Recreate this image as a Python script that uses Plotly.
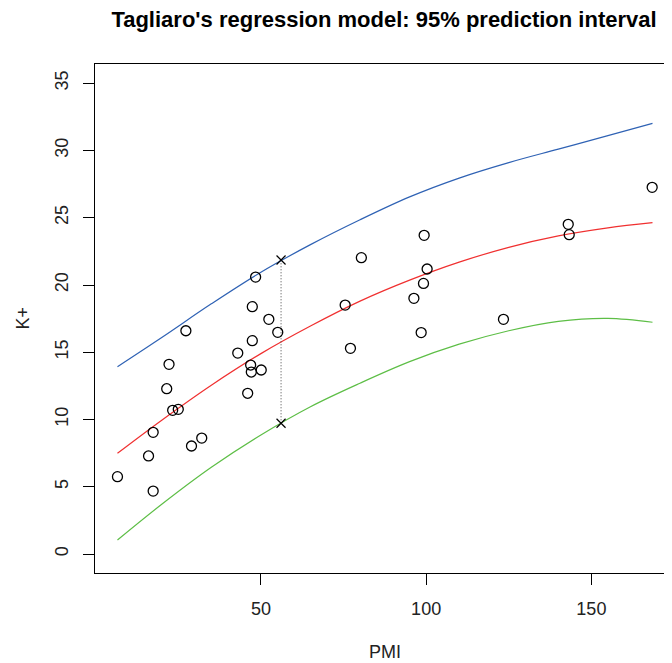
import plotly.graph_objects as go

pmi = [6.6, 17.4, 16.0, 17.4, 23.3, 25.0, 21.5, 22.2, 27.3, 29.0, 32.1, 43.0, 46.0,
       46.9, 47.1, 47.4, 47.4, 48.4, 50.1, 52.4, 55.1, 75.5, 77.1, 80.4, 96.3, 98.5,
       99.2, 99.4, 100.3, 123.4, 143.0, 143.3, 168.4]
k_plus = [5.75, 4.68, 7.29, 9.05, 10.68, 10.76, 12.29, 14.10, 16.60, 8.03, 8.62, 14.94,
          11.95, 14.05, 13.53, 15.86, 18.39, 20.59, 13.68, 17.45, 16.48, 18.51, 15.29,
          22.03, 19.01, 16.46, 20.12, 23.69, 21.19, 17.45, 24.51, 23.74, 27.26]

# Fitted curve and 95% prediction limits
curve_x = [6.6, 20, 35, 50, 65, 80, 95, 110, 125, 140, 155, 168.5]
fit_y = [7.49, 9.95, 12.55, 14.90, 16.95, 18.80, 20.36, 21.70, 22.80, 23.65, 24.25, 24.64]
upr_y = [13.93, 16.10, 18.60, 20.95, 23.00, 24.85, 26.55, 27.95, 29.10, 30.10, 31.10, 32.02]
lwr_y = [1.04, 3.70, 6.45, 8.85, 10.95, 12.70, 14.30, 15.60, 16.60, 17.30, 17.52, 17.23]

# Prediction interval at a new PMI value
new_pmi = [56.1, 56.1]
new_limits = [9.72, 21.86]

x_ticks = [50, 100, 150]
y_ticks = [0, 5, 10, 15, 20, 25, 30, 35]

FONT = "Liberation Sans, Arial, Helvetica, sans-serif"

# the page body adds an 8px offset; the figure is sized so it fits the window
OFF = 8
W, H = 672 - OFF, 663 - OFF

fig = go.Figure()
fig.add_trace(go.Scatter(x=curve_x, y=upr_y, mode="lines", line=dict(color="#2F62B4", width=1.2, shape="spline"), hoverinfo="skip"))
fig.add_trace(go.Scatter(x=curve_x, y=fit_y, mode="lines", line=dict(color="#F03030", width=1.2, shape="spline"), hoverinfo="skip"))
fig.add_trace(go.Scatter(x=curve_x, y=lwr_y, mode="lines", line=dict(color="#5DBE46", width=1.2, shape="spline"), hoverinfo="skip"))
fig.add_trace(go.Scatter(x=new_pmi, y=new_limits, mode="lines", line=dict(color="#444444", width=1, dash="1px,2px"), hoverinfo="skip"))
fig.add_trace(go.Scatter(x=new_pmi, y=new_limits, mode="markers",
                         marker=dict(symbol="x-thin-open", size=9, line=dict(color="black", width=1.2), color="black")))
fig.add_trace(go.Scatter(x=pmi, y=k_plus, mode="markers",
                         marker=dict(symbol="circle-open", size=10, color="black", line=dict(color="black", width=1.3))))

axis_common = dict(showgrid=False, zeroline=False, showline=True, linecolor="black", linewidth=1,
                   ticks="outside", ticklen=11, tickwidth=1, tickcolor="black",
                   tickfont=dict(family=FONT, size=18, color="#222"))

fig.update_layout(
    width=W, height=H,
    margin=dict(l=95 - OFF, r=0, t=64 - OFF, b=90),
    paper_bgcolor="white", plot_bgcolor="white",
    showlegend=False,
    font=dict(family=FONT, color="black"),
    title=dict(text="<b>Tagliaro's regression model: 95% prediction interval</b>",
               font=dict(family=FONT, size=22, color="black"),
               x=(384 - OFF) / W, xref="container", xanchor="center",
               y=1 - (19 - OFF) / H, yref="container", yanchor="middle"),
    xaxis=dict(range=[-0.2, 174.4], tickvals=x_ticks, mirror=True, ticklabelstandoff=8, **axis_common),
    yaxis=dict(range=[-1.41, 36.43], tickvals=y_ticks, tickangle=-90, mirror=False, ticklabelstandoff=8, **axis_common),
    annotations=[
        dict(text="PMI", xref="paper", yref="paper", x=(385 - 95) / 577, y=-(652 - 573) / 509,
             xanchor="center", yanchor="middle", showarrow=False, font=dict(family=FONT, size=18, color="#222")),
        dict(text="K+", xref="paper", yref="paper", x=-(95 - 22) / 577, y=0.5, textangle=-90,
             xanchor="center", yanchor="middle", showarrow=False, font=dict(family=FONT, size=18, color="#222")),
    ],
)

fig.write_html("out.html")
